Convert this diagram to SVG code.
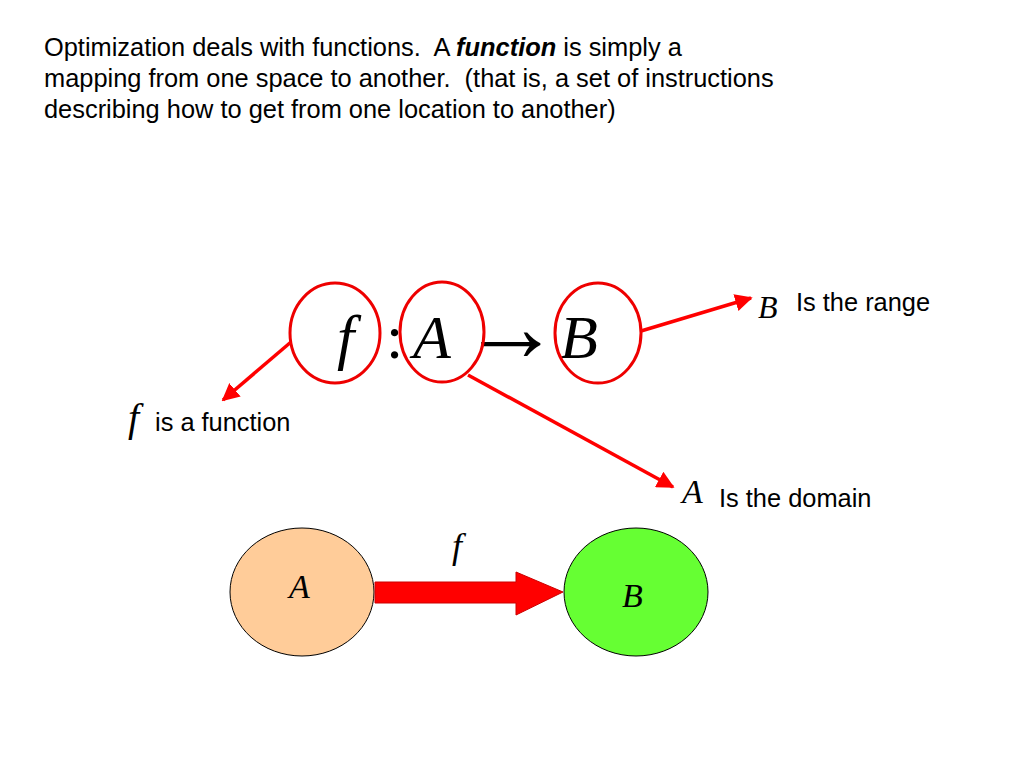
<svg xmlns="http://www.w3.org/2000/svg" width="1024" height="768" viewBox="0 0 1024 768">
<defs>
<style>
.sans{font-family:"Liberation Sans",Arial,sans-serif;font-size:25.4px;fill:#000}
.math{font-family:"Liberation Serif","Times New Roman",serif;font-style:italic;fill:#000}
.ring{fill:none;stroke:#e00;stroke-width:3}
.conn{stroke:#f00;stroke-width:3.5;fill:none}
</style>
<marker id="ah" viewBox="0 0 10 10" refX="9" refY="5" markerWidth="5" markerHeight="5" orient="auto" markerUnits="strokeWidth">
<path d="M0,0 L10,5 L0,10 Z" fill="#f00"/>
</marker>
</defs>
<rect width="1024" height="768" fill="#fff"/>
<g id="intro">
<text class="sans" x="44" y="56" xml:space="preserve">Optimization deals with functions.  A <tspan font-weight="bold" font-style="italic">function</tspan> is simply a</text>
<text class="sans" x="44" y="87" xml:space="preserve">mapping from one space to another.  (that is, a set of instructions</text>
<text class="sans" x="44" y="118">describing how to get from one location to another)</text>
</g>
<g id="formula">
<text class="math" font-size="62" x="337" y="358">f</text>
<text font-family="'Liberation Serif',serif" font-size="62" x="386" y="358">:</text>
<text class="math" font-size="62" x="413" y="358">A</text>
<text font-family="'Liberation Serif',serif" font-size="100" x="461" y="361">→</text>
<text class="math" font-size="62" x="560" y="358">B</text>
</g>
<g id="ring-f"><ellipse class="ring" cx="335" cy="333" rx="45" ry="50"/></g>
<g id="ring-A"><ellipse class="ring" cx="442" cy="332" rx="42" ry="50"/></g>
<g id="ring-B"><ellipse class="ring" cx="598" cy="333" rx="43" ry="50"/></g>
<g id="connectors">
<line class="conn" x1="291" y1="342" x2="223" y2="400" marker-end="url(#ah)"/>
<line class="conn" x1="641" y1="331" x2="751" y2="298" marker-end="url(#ah)"/>
<line class="conn" x1="468" y1="375" x2="673" y2="487" marker-end="url(#ah)"/>
</g>
<g id="label-range">
<text class="math" font-size="32" x="758" y="318">B</text>
<text class="sans" x="796" y="311">Is the range</text>
</g>
<g id="label-function">
<text class="math" font-size="40" x="128" y="431">f</text>
<text class="sans" x="155" y="431">is a function</text>
</g>
<g id="label-domain">
<text class="math" font-size="34" x="682" y="503">A</text>
<text class="sans" x="719" y="507">Is the domain</text>
</g>
<g id="set-A">
<ellipse cx="302" cy="592" rx="72" ry="64" fill="#ffcc99" stroke="#000" stroke-width="1"/>
<text class="math" font-size="34" x="289" y="598">A</text>
</g>
<g id="set-B">
<ellipse cx="636" cy="592" rx="72" ry="64" fill="#66ff33" stroke="#000" stroke-width="1"/>
<text class="math" font-size="34" x="622" y="607">B</text>
</g>
<g id="map-arrow">
<path d="M375,582 L516,582 L516,572 L563,592 L516,615 L516,603 L375,603 Z" fill="#f00" stroke="#c00" stroke-width="1"/>
<text class="math" font-size="36" x="452" y="558">f</text>
</g>
</svg>
